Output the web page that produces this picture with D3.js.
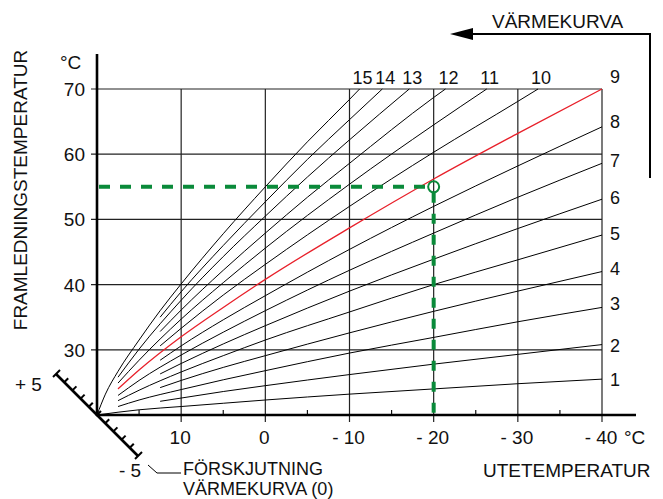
<html>
<head>
<meta charset="utf-8">
<script src="https://d3js.org/d3.v7.min.js"></script>
<style>
  body { margin: 0; background: #fff; }
  text { font-family: "Liberation Sans", Arial, sans-serif; fill: #111; }
</style>
</head>
<body>
<svg id="chart" width="663" height="499"></svg>
<script>
// outdoor temperature (x) and flow temperature (y) ticks
var xTicks = [10, 0, -10, -20, -30, -40];
var xTickLabels = ["10", "0", "- 10", "- 20", "- 30", "- 40"];
var yTicks = [30, 40, 50, 60, 70];

// heat curves 1..15, [outdoor °C, flow °C]
var curve1  = [[20,20],[15,20.8],[10,21.3],[5,21.8],[0,22.3],[-10,23.2],[-20,24.0],[-30,24.8],[-40,25.5]];
var curve2  = [[12.5,22.1],[10,22.6],[5,23.6],[0,24.5],[-10,26.2],[-20,27.8],[-30,29.3],[-40,30.8]];
var curve3  = [[17.5,21.3],[15,22.3],[10,23.9],[5,25.4],[0,26.8],[-10,29.5],[-20,31.9],[-30,34.3],[-40,36.5]];
var curve4  = [[12.5,24.2],[10,25.3],[5,27.3],[0,29.1],[-10,32.6],[-20,35.9],[-30,39.0],[-40,42.0]];
var curve5  = [[17.5,22.2],[15,23.8],[10,26.6],[5,29.1],[0,31.5],[-10,35.8],[-20,40.0],[-30,43.8],[-40,47.6]];
var curve6  = [[12.5,26.3],[10,27.9],[5,30.9],[0,33.7],[-10,39.0],[-20,43.9],[-30,48.6],[-40,53.1]];
var curve7  = [[17.5,23.0],[15,25.3],[10,29.2],[5,32.7],[0,36.0],[-10,42.2],[-20,47.9],[-30,53.4],[-40,58.6]];
var curve8  = [[12.5,28.4],[10,30.6],[5,34.6],[0,38.3],[-10,45.4],[-20,52.0],[-30,58.2],[-40,64.2]];
var curve9  = [[17.5,24.0],[15,26.9],[10,32.0],[5,36.5],[0,40.8],[-10,48.7],[-20,56.2],[-30,63.2],[-40,70]];
var curve10 = [[12.5,30.6],[10,33.3],[5,38.4],[0,43.1],[-10,52.0],[-20,60.3],[-30,68.1],[-32.4,70]];
var curve11 = [[17.5,24.9],[15,28.4],[10,34.7],[5,40.3],[0,45.6],[-10,55.4],[-20,64.5],[-26.3,70]];
var curve12 = [[12.5,32.8],[10,36.1],[5,42.2],[0,47.9],[-5,53.4],[-10,58.6],[-20,68.7],[-21.4,70]];
var curve13 = [[17.5,25.8],[15,30.1],[10,37.6],[5,44.3],[0,50.5],[-5,56.5],[-10,62.2],[-17.1,70]];
var curve14 = [[12.5,35.0],[10,38.9],[5,46.0],[0,52.7],[-5,59.2],[-10,65.3],[-13.9,70]];
var curve15 = [[20,20],[19,23.2],[17.5,26.7],[15,31.5],[12.5,36.0],[10,40.1],[5,47.8],[0,55.0],[-5,61.9],[-10,68.4],[-11.2,70]];

var curves = [curve1, curve2, curve3, curve4, curve5, curve6, curve7, curve8,
              curve9, curve10, curve11, curve12, curve13, curve14, curve15];
var curveLabels = ["1","2","3","4","5","6","7","8","9","10","11","12","13","14","15"];
var selectedCurve = 9;      // the red one
var designPoint = [-20, 55]; // green marker

var svg = d3.select("#chart");
var x = d3.scaleLinear().domain([20, -40]).range([97, 602]);
var y = d3.scaleLinear().domain([20, 70]).range([415, 89]);
var fs = 19;

// grid
svg.append("g").selectAll("line").data(yTicks).enter().append("line")
  .attr("x1", 91).attr("x2", x(-40))
  .attr("y1", function(d){ return y(d); }).attr("y2", function(d){ return y(d); })
  .attr("stroke", "#222").attr("stroke-width", 1.2);
svg.append("g").selectAll("line").data(xTicks).enter().append("line")
  .attr("x1", function(d){ return x(d); }).attr("x2", function(d){ return x(d); })
  .attr("y1", y(70)).attr("y2", y(20) + 7)
  .attr("stroke", "#222").attr("stroke-width", 1.2);
// minor ticks on outdoor axis
svg.append("g").selectAll("line").data([15, 5, -5, -15, -25, -35]).enter().append("line")
  .attr("x1", function(d){ return x(d); }).attr("x2", function(d){ return x(d); })
  .attr("y1", y(20) - 5).attr("y2", y(20))
  .attr("stroke", "#111").attr("stroke-width", 1.2);

// curves
var line = d3.line()
  .x(function(d){ return x(d[0]); })
  .y(function(d){ return y(d[1]); })
  .curve(d3.curveMonotoneX);

svg.append("g").selectAll("path").data(curves).enter().append("path")
  .attr("d", line)
  .attr("fill", "none")
  .attr("stroke", function(d, i){ return i + 1 === selectedCurve ? "#e8202a" : "#000"; })
  .attr("stroke-width", function(d, i){ return i + 1 === selectedCurve ? 1.3 : 1; });

// axes (thick)
svg.append("line").attr("x1", x(20)).attr("x2", x(20)).attr("y1", 54).attr("y2", y(20) + 1)
  .attr("stroke", "#000").attr("stroke-width", 2.6);
svg.append("line").attr("x1", x(20) - 1).attr("x2", 636).attr("y1", y(20)).attr("y2", y(20))
  .attr("stroke", "#000").attr("stroke-width", 2.6);

// tick labels
svg.append("g").selectAll("text").data(yTicks).enter().append("text")
  .attr("x", 85).attr("y", function(d){ return y(d) + 7; })
  .attr("text-anchor", "end").attr("font-size", fs)
  .text(function(d){ return d; });
svg.append("text").attr("x", 60).attr("y", 69).attr("font-size", fs).text("°C");

svg.append("g").selectAll("text").data(xTicks).enter().append("text")
  .attr("x", function(d){ return x(d) - 1; }).attr("y", 444)
  .attr("text-anchor", "middle").attr("font-size", fs)
  .text(function(d, i){ return xTickLabels[i]; });
svg.append("text").attr("x", 624).attr("y", 444).attr("font-size", fs).text("°C");
svg.append("text").attr("x", 483).attr("y", 477).attr("font-size", fs).text("UTETEMPERATUR");

svg.append("text")
  .attr("transform", "translate(27,190) rotate(-90)")
  .attr("text-anchor", "middle").attr("font-size", fs)
  .text("FRAMLEDNINGSTEMPERATUR");

// curve labels: 1..9 at the right, 10..15 along the top
var rightNudge = [0, 0, -4, -4, -2, -2, -3, -6, -13];
svg.append("g").selectAll("text").data(curves.slice(0, 9)).enter().append("text")
  .attr("x", 610)
  .attr("y", function(d, i){ return y(d[d.length - 1][1]) + rightNudge[i] + 7; })
  .attr("font-size", 18)
  .text(function(d, i){ return curveLabels[i]; });
svg.append("g").selectAll("text").data(curves.slice(9)).enter().append("text")
  .attr("x", function(d){ return x(d[d.length - 1][0]) + 3; })
  .attr("y", 84)
  .attr("text-anchor", "middle").attr("font-size", 18)
  .text(function(d, i){ return curveLabels[i + 9]; });

// VÄRMEKURVA arrow
svg.append("path").attr("d", "M650,178 V34 H470")
  .attr("fill", "none").attr("stroke", "#000").attr("stroke-width", 2);
svg.append("path").attr("d", "M450,34 L473,28 L473,40 Z").attr("fill", "#000");
svg.append("text").attr("x", 492).attr("y", 28).attr("font-size", fs).text("VÄRMEKURVA");

// green design point
var green = "#0a8a3a";
svg.append("line")
  .attr("x1", x(20) + 2).attr("x2", x(designPoint[0]) - 6)
  .attr("y1", y(designPoint[1])).attr("y2", y(designPoint[1]))
  .attr("stroke", green).attr("stroke-width", 4).attr("stroke-dasharray", "11,10");
svg.append("line")
  .attr("x1", x(designPoint[0])).attr("x2", x(designPoint[0]))
  .attr("y1", y(designPoint[1]) + 6).attr("y2", y(20))
  .attr("stroke", green).attr("stroke-width", 4).attr("stroke-dasharray", "10,11");
svg.append("circle")
  .attr("cx", x(designPoint[0])).attr("cy", y(designPoint[1])).attr("r", 5.5)
  .attr("fill", "none").attr("stroke", green).attr("stroke-width", 2);

// parallel shift scale (FÖRSKJUTNING)
var ox = x(20), oy = y(20), step = 8.2;
var shift = d3.range(-5, 6);
svg.append("line")
  .attr("x1", ox - 5 * step).attr("y1", oy - 5 * step)
  .attr("x2", ox + 5 * step).attr("y2", oy + 5 * step)
  .attr("stroke", "#000").attr("stroke-width", 2.6);
svg.append("g").selectAll("line").data(shift).enter().append("line")
  .attr("x1", function(d){ return ox - d * step - (Math.abs(d) === 5 ? 3 : 0); })
  .attr("y1", function(d){ return oy - d * step + (Math.abs(d) === 5 ? 3 : 0); })
  .attr("x2", function(d){ return ox - d * step + 4; })
  .attr("y2", function(d){ return oy - d * step - 4; })
  .attr("stroke", "#000").attr("stroke-width", 2);
svg.append("text").attr("x", 15).attr("y", 391).attr("font-size", fs).text("+ 5");
svg.append("text").attr("x", 119).attr("y", 477).attr("font-size", fs).text("- 5");
svg.append("path").attr("d", "M148,465 L157,473 H181")
  .attr("fill", "none").attr("stroke", "#000").attr("stroke-width", 1);
svg.append("text").attr("x", 183).attr("y", 475).attr("font-size", 18).text("FÖRSKJUTNING");
svg.append("text").attr("x", 183).attr("y", 495).attr("font-size", 18).text("VÄRMEKURVA (0)");
</script>
</body>
</html>
